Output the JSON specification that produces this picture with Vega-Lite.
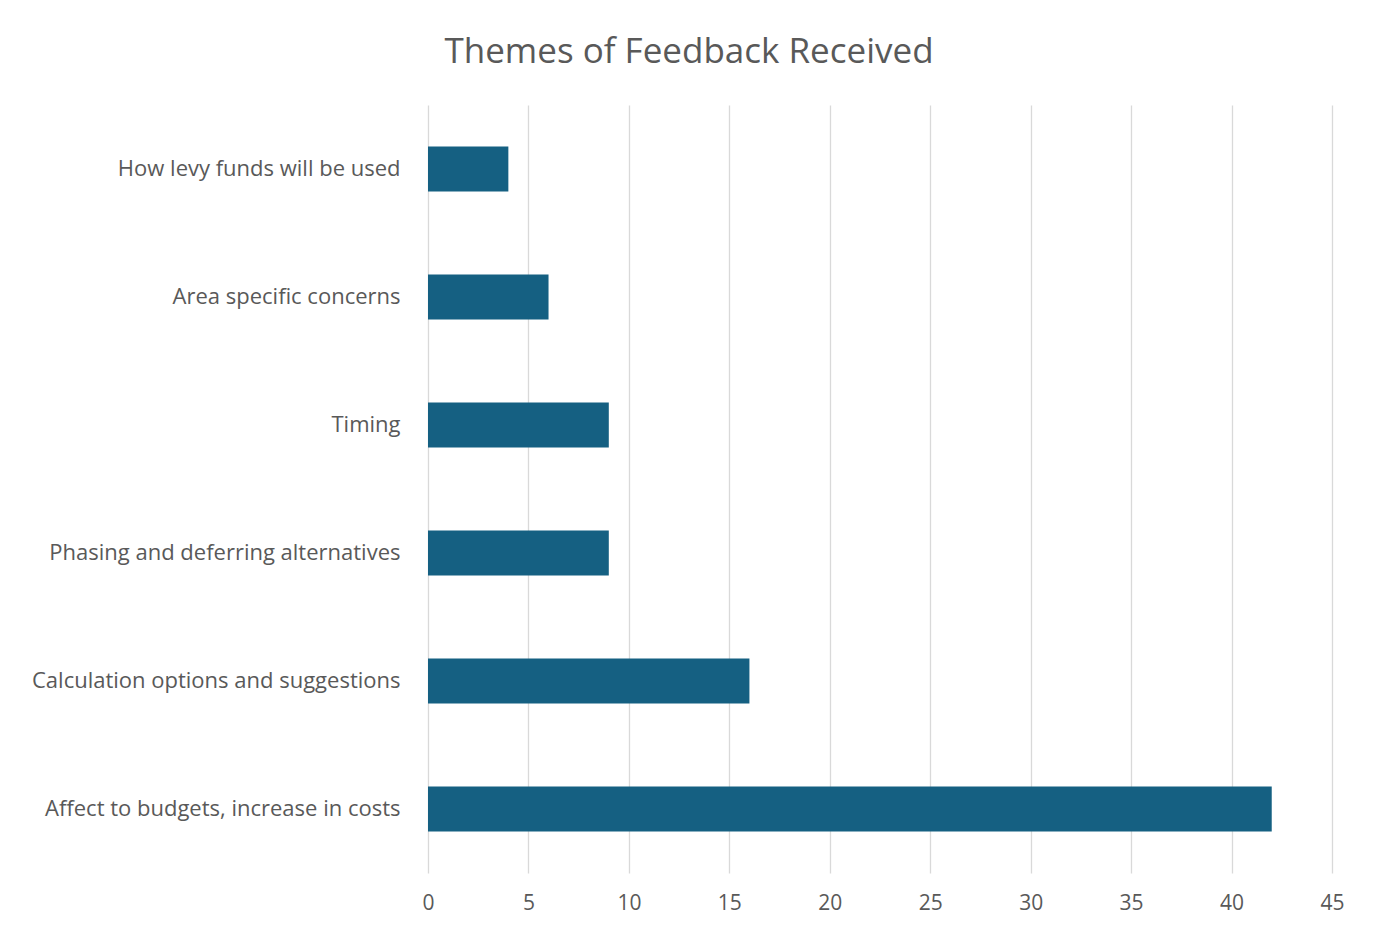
{
  "$schema": "https://vega.github.io/schema/vega-lite/v6.json",
  "width": 904,
  "height": 768,
  "autosize": "none",
  "padding": {"left": 428, "top": 105, "right": 44, "bottom": 58},
  "background": "white",
  "title": {
    "text": "Themes of Feedback Received",
    "font": "Open Sans",
    "fontSize": 35,
    "fontWeight": "normal",
    "color": "#595959",
    "anchor": "middle",
    "frame": "group",
    "dx": -191,
    "offset": 35
  },
  "data": {
    "values": [
      {"theme": "How levy funds will be used", "count": 4},
      {"theme": "Area specific concerns", "count": 6},
      {"theme": "Timing", "count": 9},
      {"theme": "Phasing and deferring alternatives", "count": 9},
      {"theme": "Calculation options and suggestions", "count": 16},
      {"theme": "Affect to budgets, increase in costs", "count": 42}
    ]
  },
  "mark": {"type": "bar", "color": "#156082"},
  "encoding": {
    "y": {
      "field": "theme",
      "type": "nominal",
      "sort": null,
      "scale": {"paddingInner": 0.65, "paddingOuter": 0.325},
      "axis": {
        "title": null,
        "domain": false,
        "ticks": false,
        "labelPadding": 28,
        "labelFont": "Open Sans",
        "labelFontSize": 22,
        "labelColor": "#595959",
        "labelLimit": 500
      }
    },
    "x": {
      "field": "count",
      "type": "quantitative",
      "scale": {"domain": [0, 45], "nice": false},
      "axis": {
        "title": null,
        "values": [0, 5, 10, 15, 20, 25, 30, 35, 40, 45],
        "domain": false,
        "ticks": false,
        "grid": true,
        "gridColor": "#d9d9d9",
        "gridWidth": 1.3,
        "labelPadding": 19,
        "labelFlush": false,
        "labelFont": "Open Sans",
        "labelFontSize": 21,
        "labelColor": "#595959"
      }
    }
  },
  "config": {"view": {"stroke": null}}
}
